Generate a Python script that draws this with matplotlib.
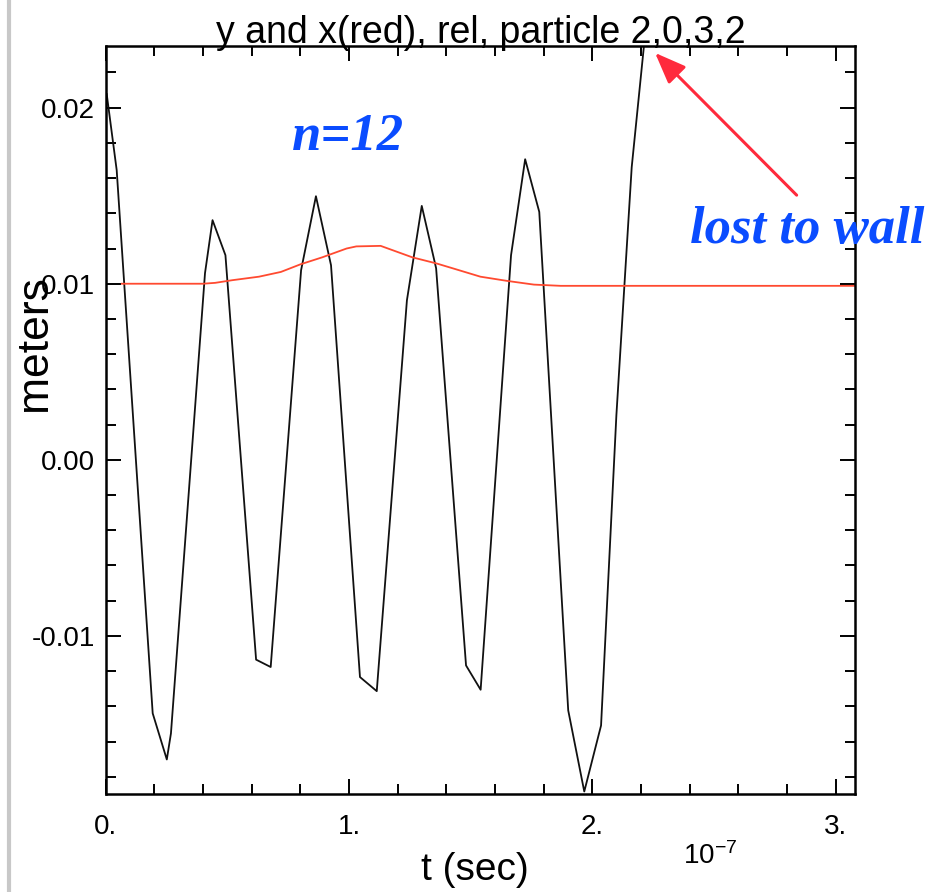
import numpy as np
import matplotlib
matplotlib.use('Agg')
import matplotlib.pyplot as plt
from matplotlib.ticker import MultipleLocator, FuncFormatter
from matplotlib.lines import Line2D

plt.rcParams['font.family'] = ['Liberation Sans', 'DejaVu Sans']
plt.rcParams['mathtext.default'] = 'regular'

# y of the particle (black), time in units of 1e-7 s, position in meters
t_y = [0.004, 0.045, 0.193, 0.251, 0.268, 0.408, 0.439, 0.492, 0.618, 0.678,
       0.803, 0.864, 0.926, 1.045, 1.114, 1.238, 1.299, 1.358, 1.481, 1.541,
       1.666, 1.724, 1.782, 1.901, 1.967, 2.036, 2.099, 2.162, 2.223]
y_rel = [0.02077, 0.01645, -0.01440, -0.01702, -0.01554, 0.01060, 0.01361,
         0.01162, -0.01135, -0.01177, 0.01077, 0.01497, 0.01105, -0.01234,
         -0.01314, 0.00906, 0.01442, 0.01088, -0.01168, -0.01306, 0.01162,
         0.01707, 0.01408, -0.01423, -0.01884, -0.01509, 0.00253, 0.01662,
         0.02497]

# x of the particle (red)
t_x = [0.066, 0.40, 0.45, 0.52, 0.63, 0.72, 0.80, 0.89, 0.99, 1.03, 1.13,
       1.18, 1.26, 1.36, 1.43, 1.54, 1.65, 1.76, 1.87, 3.08]
x_rel = [0.0100, 0.0100, 0.01005, 0.0102, 0.0104, 0.01067, 0.0111, 0.0115,
         0.0120, 0.01212, 0.01215, 0.0119, 0.0115, 0.01115, 0.01086, 0.0104,
         0.01016, 0.00995, 0.00988, 0.00988]

# where the particle hits the wall
lost_tip = (2.258, 0.02311)
lost_tail = (2.840, 0.01503)

fig = plt.figure(figsize=(9.45, 8.92), dpi=100)
ax = fig.add_axes([0.1119, 0.1095, 0.7929, 0.8389])

ax.plot(t_y, y_rel, color='#111111', lw=1.3)
ax.plot(t_x, x_rel, color='#ff4a30', lw=1.3)

ax.set_xlim(0, 3.08)
ax.set_ylim(-0.0190, 0.0235)

ax.xaxis.set_major_locator(MultipleLocator(1))
ax.xaxis.set_minor_locator(MultipleLocator(0.2))
ax.yaxis.set_major_locator(MultipleLocator(0.01))
ax.yaxis.set_minor_locator(MultipleLocator(0.002))
ax.xaxis.set_major_formatter(FuncFormatter(lambda v, p: f'{v:.0f}.'))
ax.yaxis.set_major_formatter(FuncFormatter(lambda v, p: f'{0 if abs(v) < 1e-9 else v:.2f}'))
ax.tick_params(which='both', direction='in', top=True, right=True,
               width=1.4, labelsize=20)
ax.tick_params(which='major', length=11)
ax.tick_params(which='minor', length=7)
ax.tick_params(axis='x', pad=14)
ax.tick_params(axis='y', pad=8)
for s in ax.spines.values():
    s.set_linewidth(1.8)

ax.text(0.5, 1.004, 'y and x(red), rel, particle 2,0,3,2', transform=ax.transAxes,
        ha='center', va='baseline', fontsize=27)
fig.text(0.503, 0.025, 't (sec)', ha='center', va='center', fontsize=28)
fig.text(0.752, 0.04, '$10^{-7}$', ha='center', va='center', fontsize=20)
fig.text(0.036, 0.615, 'meters', ha='center', va='center', rotation=90, fontsize=32)

serif = dict(family='Liberation Serif', weight='bold', style='italic',
             color='#0a4cff', fontsize=38)
ax.text(0.766, 0.01759, 'n=12', ha='left', va='baseline', **serif)
ax.text(2.402, 0.01232, 'lost to wall', ha='left', va='baseline', **serif)

ax.annotate('', xy=lost_tip, xytext=lost_tail,
            arrowprops=dict(arrowstyle='-|>,head_length=1.9,head_width=0.75',
                            color='#ff2a3c', lw=2.2, shrinkA=0, shrinkB=0,
                            mutation_scale=10))

# thin grey window edge on the left
fig.add_artist(Line2D([0.009, 0.009], [0, 1], transform=fig.transFigure,
                      color='#c8c8c8', lw=3))

fig.savefig('out.png', dpi=100)
